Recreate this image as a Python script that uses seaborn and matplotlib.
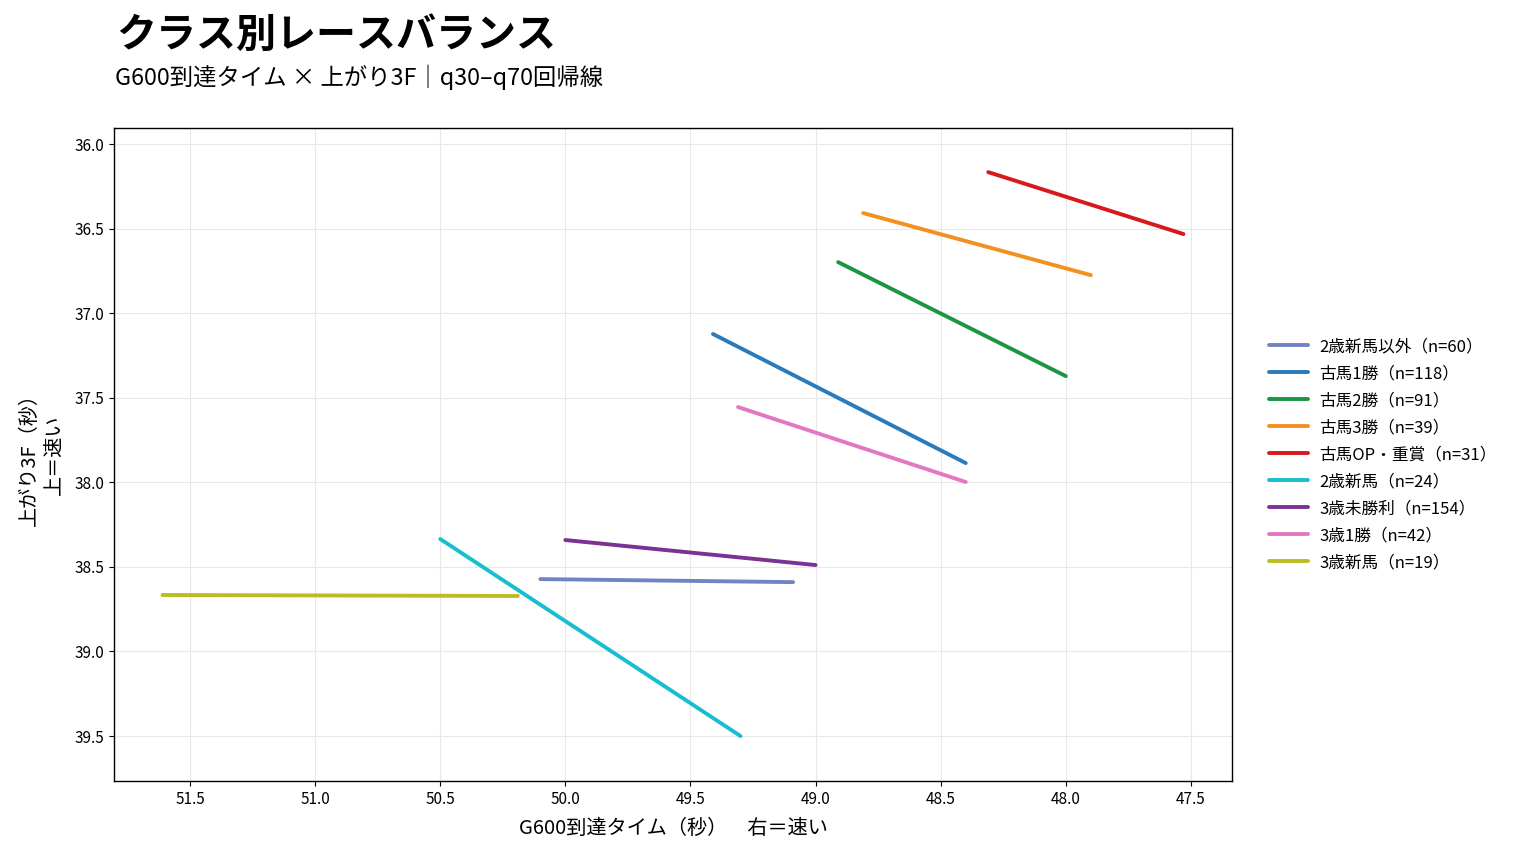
import matplotlib
matplotlib.use("Agg")
import matplotlib.pyplot as plt
import pandas as pd
import seaborn as sns

# segment endpoints of each class's q30-q70 regression line
classes = ["2歳新馬以外", "古馬1勝", "古馬2勝", "古馬3勝", "古馬OP・重賞",
           "2歳新馬", "3歳未勝利", "3歳1勝", "3歳新馬"]
counts = [60, 118, 91, 39, 31, 24, 154, 42, 19]
x_start = [50.10, 49.41, 48.91, 48.81, 48.31, 50.50, 50.00, 49.31, 51.61]
x_end = [49.09, 48.40, 48.00, 47.90, 47.53, 49.30, 49.00, 48.40, 50.19]
y_start = [38.572, 37.123, 36.698, 36.408, 36.166, 38.335, 38.341, 37.555, 38.666]
y_end = [38.590, 37.886, 37.372, 36.775, 36.532, 39.500, 38.489, 37.998, 38.672]
colors = ["#7282c2", "#2b7bba", "#1a9641", "#f39020", "#d7191c",
          "#17becf", "#7b3294", "#e377c2", "#bcbd22"]

labels = [f"{c}（n={n}）" for c, n in zip(classes, counts)]
rows = []
for lab, xs, xe, ys, ye in zip(labels, x_start, x_end, y_start, y_end):
    rows.append({"label": lab, "g600": xs, "last3f": ys})
    rows.append({"label": lab, "g600": xe, "last3f": ye})
df = pd.DataFrame(rows)

sns.set_style("ticks", {"axes.grid": True, "grid.color": "#e8e8e8",
                        "axes.edgecolor": "black"})
plt.rcParams["font.family"] = ["Noto Sans CJK JP", "DejaVu Sans"]
plt.rcParams.update({"text.color": "black", "axes.labelcolor": "black",
                     "xtick.color": "black", "ytick.color": "black"})

fig = plt.figure(figsize=(15.15, 8.55), dpi=100)
ax = fig.add_axes([0.0752, 0.0865, 0.7380, 0.7638])

sns.lineplot(data=df, x="g600", y="last3f", hue="label", hue_order=labels,
             palette=dict(zip(labels, colors)), estimator=None, sort=False,
             linewidth=2.8, ax=ax)

ax.set_xlim(51.804, 47.336)
ax.set_ylim(39.766, 35.905)
ax.set_xticks([51.5, 51.0, 50.5, 50.0, 49.5, 49.0, 48.5, 48.0, 47.5])
ax.set_yticks([36.0, 36.5, 37.0, 37.5, 38.0, 38.5, 39.0, 39.5])
ax.tick_params(labelsize=11)
ax.grid(True, color="#e8e8e8", linewidth=0.8)
for s in ax.spines.values():
    s.set_color("black")
    s.set_linewidth(1.0)

ax.set_xlabel("G600到達タイム（秒）　右＝速い", fontsize=14.5, labelpad=7)
ax.set_ylabel("上がり3F（秒）\n上＝速い", fontsize=14.5, labelpad=7)

ax.legend(loc="center left", bbox_to_anchor=(1.02, 0.5), frameon=False,
          fontsize=12, handlelength=2.3, handletextpad=0.7, labelspacing=0.6)

fig.text(0.077, 0.958, "クラス別レースバランス", fontsize=28.8, fontweight="bold",
         va="center", ha="left")
fig.text(0.076, 0.909, "G600到達タイム × 上がり3F｜q30–q70回帰線", fontsize=16.8,
         va="center", ha="left")

fig.savefig("out.png", dpi=100)
